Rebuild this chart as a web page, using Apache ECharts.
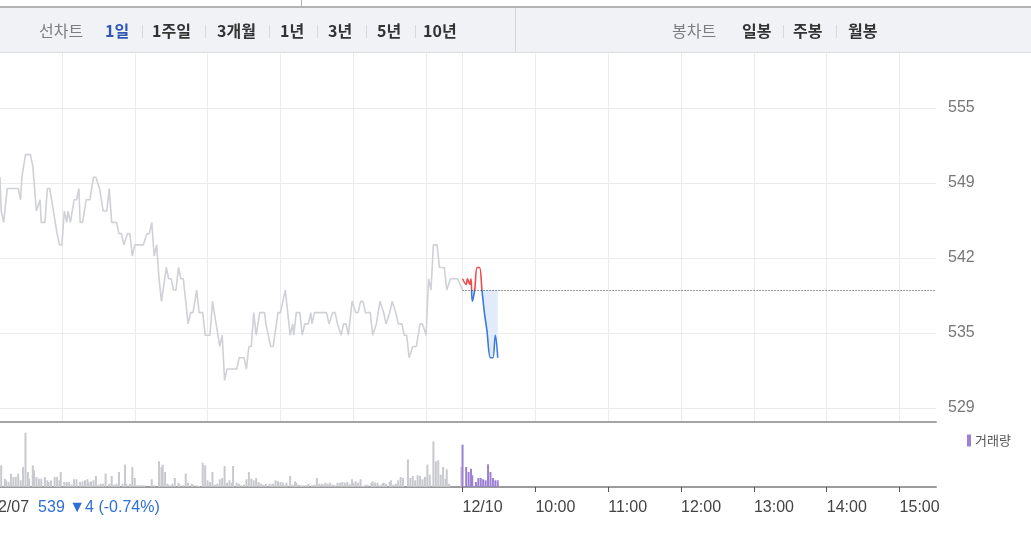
<!DOCTYPE html>
<html><head><meta charset="utf-8">
<script src="https://cdn.jsdelivr.net/npm/echarts@6/dist/echarts.min.js"></script>
<style>html,body{margin:0;padding:0;background:#fff}#c{width:1031px;height:543px}</style>
</head><body><div id="c"></div>
<script>
// ---------- data ----------
const BASE = 539; // 12/07 close (baseline)
const prevPrice = [[0,546],[4,548],[9,549],[10,546],[12,545],[15,548],[17,548],[24,548],[26,547],[27,549],[30,551],[34,551],[36,550],[39,546],[42,547],[43,545],[46,545],[48,548],[50,548],[53,546],[56,544],[58,543],[60,543],[62,546],[64,545],[65,546],[67,545],[70,547],[72,547],[74,548],[75,545],[77,545],[80,547],[83,547],[86,549],[88,549],[91,548],[94,546],[97,546],[99,548],[101,545],[105,545],[107,544],[109,544],[111,543],[114,544],[116,544],[118,542],[120,543],[127,543],[130,544],[132,544],[134,545],[136,542],[138,543],[140,540],[142,538],[146,541],[148,540],[150,540],[152,539],[154,539],[156,541],[158,540],[160,540],[162,538],[164,536],[166,537],[168,537],[171,539],[173,537],[176,537],[178,535],[182,535],[184,538],[187,536],[190,534],[192,535],[194,531],[196,532],[204,532],[206,533],[210,533],[212,532],[214,534],[216,534],[218,537],[220,535],[223,537],[227,537],[228,536],[232,534],[234,534],[238,537],[240,537],[244,539],[245,538],[248,535],[250,536],[251,535],[253,537],[256,537],[258,535],[260,536],[263,536],[265,537],[266,536],[268,537],[278,537],[280,536],[283,537],[285,537],[287,536],[288,536],[290,535],[292,536],[294,536],[296,535],[299,538],[302,537],[304,537],[306,538],[308,538],[310,537],[314,537],[316,535],[319,536],[322,538],[325,537],[327,536],[330,537],[332,538],[335,537],[337,536],[340,536],[342,535],[344,535],[346,533],[347,533],[349,534],[352,534],[355,536],[357,536],[360,535],[362,540],[364,539],[366,543],[369,543],[371,541],[375,541],[377,539],[380,540],[386,540],[390,539]];
const todayPrice = [[390,540],[393,539.5],[394,540],[396,539.5],[397,540],[398,538],[400,539],[402,541],[404,541],[406,539],[408,537],[410,535.5],[413,533],[415,533],[417,535],[419,533]];
const prevVol = [[10,217],[13,83],[14,67],[16,50],[18,133],[20,100],[22,100],[24,133],[26,67],[28,200],[30,543],[32,150],[33,83],[36,217],[37,167],[39,100],[41,83],[43,83],[46,100],[48,67],[49,50],[51,67],[54,100],[56,100],[58,67],[59,150],[62,50],[64,50],[66,50],[68,23],[70,77],[72,77],[75,50],[77,57],[79,67],[81,77],[82,50],[84,57],[86,67],[88,110],[90,23],[92,33],[94,33],[96,133],[99,33],[101,110],[103,23],[105,33],[107,150],[110,33],[112,223],[113,33],[116,33],[118,200],[120,90],[122,17],[124,17],[126,17],[128,17],[134,77],[136,17],[140,257],[142,200],[143,223],[145,150],[147,33],[149,17],[151,33],[153,90],[156,43],[157,23],[160,17],[162,133],[164,43],[167,33],[168,23],[171,17],[173,10],[176,243],[178,217],[180,67],[182,50],[184,150],[186,23],[188,33],[190,77],[192,90],[194,210],[196,43],[198,67],[200,43],[201,210],[204,43],[206,33],[208,17],[210,23],[212,77],[214,150],[216,83],[218,67],[220,90],[222,50],[224,33],[226,23],[228,33],[231,33],[233,23],[234,33],[236,67],[238,57],[240,50],[242,43],[244,17],[245,43],[248,110],[250,23],[252,57],[253,43],[255,23],[257,17],[259,17],[261,17],[263,33],[266,17],[268,23],[270,90],[272,33],[274,33],[276,23],[277,43],[279,33],[281,43],[283,23],[285,17],[287,43],[289,43],[291,50],[293,43],[295,50],[297,33],[299,77],[300,43],[302,57],[304,43],[306,77],[308,10],[310,23],[312,23],[315,43],[316,57],[318,43],[320,43],[322,17],[324,33],[325,43],[327,33],[330,50],[331,67],[333,23],[335,33],[337,67],[339,100],[341,90],[345,277],[347,90],[349,110],[351,67],[353,117],[355,110],[357,77],[359,100],[361,223],[363,123],[366,457],[368,257],[370,267],[372,123],[374,200],[376,83],[377,177],[379,33],[389,200]];
const todayVol = [[390,423],[393,200],[395,150],[397,183],[398,117],[401,50],[403,90],[405,90],[407,77],[409,67],[411,227],[413,150],[415,90],[417,67],[419,67]];

// tick labels
const yTickLabels = ['529','535','542','549','555'];
const xLabelIdx  = [390, 450, 510, 570, 630, 690, 750];
const xLabelText = ['12/10', '10:00', '11:00', '12:00', '13:00', '14:00', '15:00'];
const prevDate = '12/07';
const prevInfo = '539 ▼4 (-0.74%)';
const gridIdx = [60,120,180,240,300,360,390,450,510,570,630,690,750];
const tickIdx = [390,450,510,570,630,690,750];

// tabs
const leftTabs = ['1일','1주일','3개월','1년','3년','5년','10년'];
const rightTabs = ['일봉','주봉','월봉'];

// session-minute categories: 12/07 09:00..15:29, 12/10 09:00..15:30
const pad = n => (n < 10 ? '0' : '') + n;
const categories = [];
for (let m = 0; m <= 780; m++) {
  const day = m < 390 ? '12/07' : '12/10';
  const mm = m < 390 ? m : m - 390;
  categories.push(day + ' ' + pad(9 + Math.floor(mm / 60)) + ':' + pad(mm % 60));
}
const labelOf = {};
xLabelIdx.forEach((idx, k) => { labelOf[categories[idx]] = xLabelText[k]; });

// ---------- layout ----------
const FONT = "'Liberation Sans', 'Noto Sans CJK KR', sans-serif";
const KFONT = "'Noto Sans CJK KR', 'Liberation Sans', sans-serif";
const PRICE_MIN = 528.55, PRICE_MAX = 555.13;
const X_MIN = 9; // first visible session minute
const leftTabX = [105, 152, 217, 280, 328, 377, 423];
const leftSepX = [142, 205, 269, 317, 366, 415];
const rightTabX = [742, 793, 848];
const rightSepX = [783, 836];

const graphics = [
  {type:'rect', shape:{x:0,y:6,width:1031,height:2}, style:{fill:'#b3b3b3'}, silent:true},
  {type:'line', shape:{x1:301.5,y1:0,x2:301.5,y2:6}, style:{stroke:'#b3b3b3',lineWidth:1}, silent:true},
  {type:'rect', shape:{x:0,y:8,width:1031,height:44}, style:{fill:'#f1f2f6'}, silent:true},
  {type:'line', shape:{x1:0,y1:52.5,x2:1031,y2:52.5}, style:{stroke:'#dcdde2',lineWidth:1}, silent:true},
  {type:'line', shape:{x1:515.5,y1:8,x2:515.5,y2:52}, style:{stroke:'#d6d7dc',lineWidth:1}, silent:true},
  {type:'text', x:39, y:31, style:{text:'선차트', font:'16px ' + KFONT, fill:'#7d7d7d', verticalAlign:'middle'}, silent:true},
  {type:'text', x:672, y:31, style:{text:'봉차트', font:'16px ' + KFONT, fill:'#7d7d7d', verticalAlign:'middle'}, silent:true}
];
leftTabs.forEach((t, i) => graphics.push({type:'text', x:leftTabX[i], y:31, silent:true,
  style:{text:t, font:'bold 16px ' + KFONT, fill: i === 0 ? '#2f58b5' : '#333', verticalAlign:'middle'}}));
leftSepX.forEach(x => graphics.push({type:'line', silent:true, shape:{x1:x+0.5,y1:25,x2:x+0.5,y2:38}, style:{stroke:'#d9d9d9',lineWidth:1}}));
rightTabs.forEach((t, i) => graphics.push({type:'text', x:rightTabX[i], y:31, silent:true,
  style:{text:t, font:'bold 16px ' + KFONT, fill:'#333', verticalAlign:'middle'}}));
rightSepX.forEach(x => graphics.push({type:'line', silent:true, shape:{x1:x+0.5,y1:25,x2:x+0.5,y2:38}, style:{stroke:'#d9d9d9',lineWidth:1}}));

const RED = '#f0494c', BLUE = '#3a7ade', AREA = '#e2ebf9';
const LABEL_MARGIN = 13;

const option = {
  animation: false,
  backgroundColor: '#fff',
  textStyle: {fontFamily: FONT},
  graphic: graphics,
  legend: {
    data: ['거래량'], left: 967, top: 434, icon: 'rect', itemWidth: 4, itemHeight: 12,
    selectedMode: false, padding: 0, itemGap: 4,
    textStyle: {fontFamily: KFONT, fontSize: 13, color: '#555', padding: [0,0,0,-1]}
  },
  grid: [
    {left: 0, right: 95, top: 53, bottom: 121},
    {left: 0, right: 95, top: 108, bottom: 135},
    {left: 0, right: 95, top: 422, bottom: 56}
  ],
  xAxis: [
    {gridIndex:0, type:'category', data:categories, boundaryGap:false, min:X_MIN,
     axisLine:{show:true, lineStyle:{color:'#a4a4a4', width:2}}, axisTick:{show:false}, axisLabel:{show:false},
     splitLine:{show:true, interval:(i) => gridIdx.includes(i), lineStyle:{color:'#ebebeb', width:1}}},
    {gridIndex:1, type:'category', data:categories, boundaryGap:false, min:X_MIN, show:false},
    {gridIndex:2, type:'category', data:categories, boundaryGap:false, min:X_MIN,
     axisLine:{show:true, lineStyle:{color:'#9b9b9b', width:2}},
     axisTick:{show:true, interval:(i) => tickIdx.includes(i), length:5, lineStyle:{color:'#555', width:1}},
     splitLine:{show:false},
     axisLabel:{interval:(i) => xLabelIdx.includes(i), align:'left', margin:LABEL_MARGIN, color:'#444', fontSize:16, fontFamily:FONT,
       formatter:(v) => labelOf[v] || ''}}
  ],
  yAxis: [
    {gridIndex:0, type:'value', min:0, max:1, show:false},
    {gridIndex:1, type:'value', min:PRICE_MIN, max:PRICE_MAX, show:false},
    {gridIndex:1, type:'value', position:'right', min:0, max:4, interval:1,
     axisLine:{show:false}, axisTick:{show:false},
     axisLabel:{formatter:(v) => yTickLabels[Math.round(v)], color:'#777', fontSize:16, margin:12, fontFamily:FONT,
       padding:[5,0,0,0]},
     splitLine:{show:true, lineStyle:{color:'#ebebeb', width:1}}},
    {gridIndex:2, type:'value', min:0, max:650, show:false}
  ],
  series: [
    {type:'line', xAxisIndex:0, yAxisIndex:0, data:[], silent:true},
    {type:'line', name:'prev', xAxisIndex:1, yAxisIndex:1, data:prevPrice, showSymbol:false, silent:true, z:2,
     lineStyle:{color:'#cfd1d6', width:1.6},
     markLine:{symbol:'none', silent:true, label:{show:false}, animation:false, z:5,
       lineStyle:{type:[1,2], color:'#333', width:1, opacity:1},
       data:[[{coord:[categories[390], BASE]}, {coord:[categories[780], BASE]}]]}},
    {type:'line', id:'today', name:'today', xAxisIndex:1, yAxisIndex:1, data:todayPrice, showSymbol:false, silent:true, z:4,
     smooth:0.35, lineStyle:{width:1.6, color:BLUE}},
    {type:'line', id:'todayArea', name:'todayArea', xAxisIndex:1, yAxisIndex:1, data:todayPrice, showSymbol:false, silent:true, z:1,
     smooth:0.35, lineStyle:{width:0, opacity:0}, areaStyle:{origin:BASE, opacity:1, color:AREA}},
    {type:'bar', name:'prevVol', xAxisIndex:2, yAxisIndex:3, data:prevVol, barWidth:2, barGap:'-100%', silent:true,
     itemStyle:{color:'#c8c9ce'}},
    {type:'bar', name:'거래량', xAxisIndex:2, yAxisIndex:3, data:todayVol, barWidth:2, barGap:'-100%', silent:true,
     itemStyle:{color:'#9b80d3'}}
  ]
};
const chart = echarts.init(document.getElementById('c'), null, {renderer:'canvas'});
chart.setOption(option);

// colour split at the baseline, placed through the price axis
const H = 543;
const yBase = chart.convertToPixel({xAxisIndex:1, yAxisIndex:1}, [categories[390], BASE])[1];
const f = Math.min(1, Math.max(0, yBase / H));
const lineGrad = new echarts.graphic.LinearGradient(0, 0, 0, H, [
  {offset:0, color:RED}, {offset:f, color:RED}, {offset:f, color:BLUE}, {offset:1, color:BLUE}], true);
const areaGrad = new echarts.graphic.LinearGradient(0, 0, 0, H, [
  {offset:0, color:'rgba(255,255,255,0)'}, {offset:f, color:'rgba(255,255,255,0)'}, {offset:f, color:AREA}, {offset:1, color:AREA}], true);

// previous-day date label at the start of its session (left of the visible area)
const axisY = chart.convertToPixel({xAxisIndex:2, yAxisIndex:3}, [categories[0], 0]);
const extra = graphics.concat([{type:'text', x:axisY[0], y:axisY[1] + LABEL_MARGIN, silent:true,
  style:{text: prevDate + '{b|' + prevInfo + '}', font:'16px ' + FONT, fill:'#444', verticalAlign:'top',
    rich:{b:{fill:'#2f6fd6', font:'16px ' + FONT, padding:[0,0,0,9]}}}}]);

chart.setOption({
  graphic: extra,
  series: [{id:'today', lineStyle:{color:lineGrad}}, {id:'todayArea', areaStyle:{color:areaGrad}}]
});
</script>
</body></html>
